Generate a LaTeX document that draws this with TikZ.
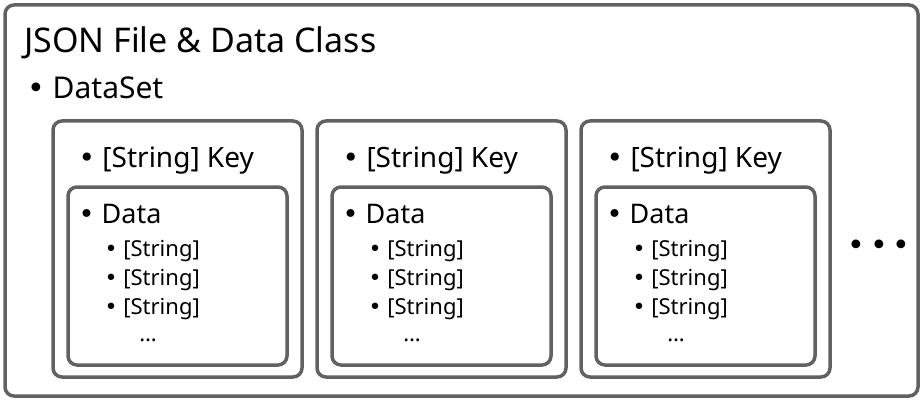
\documentclass[tikz,border=0pt]{standalone}
\usepackage{fontspec}
\setmainfont{Noto Sans}
\newfontfamily\dotfont{DejaVu Sans}
\newcommand{\blt}{{\dotfont •}}
\definecolor{framegray}{HTML}{616161}
\tikzset{
  frame/.style={draw=framegray, line width=3.5pt, rounded corners=9pt},
  lbl/.style={anchor=base west, inner sep=0pt},
  titlefont/.style={font=\fontsize{34}{40}\selectfont},
  setfont/.style={font=\fontsize{30}{36}\selectfont},
  keyfont/.style={font=\fontsize{28}{34}\selectfont},
  datafont/.style={font=\fontsize{27}{32}\selectfont},
  strfont/.style={font=\fontsize{22}{26}\selectfont},
}
\begin{document}
\begin{tikzpicture}[x=1pt,y=-1pt]
\useasboundingbox (0,0) rectangle (923,401);
%\draw[help lines, color=gray!30, dashed] (0,0) grid[step=50] (923,401);
\draw[frame] (5,5) rectangle (918,396);
\node[lbl,titlefont] (title) at (24,53) {JSON File \& Data Class};
\node[lbl,setfont] (dataset) at (27,99) {\blt\ DataSet};
% first key
\draw[frame] (53,121) rectangle (302,377);
\draw[frame] (68,187) rectangle (287,365);
\node[lbl,keyfont] (keyA) at (78.5,167) {\blt\ [String] Key};
\node[lbl,datafont] (dataA) at (78.5,223) {\blt\ Data};
\node[lbl,strfont] (strA1) at (104.5,256) {\blt\ [String]};
\node[lbl,strfont] (strA2) at (104.5,285) {\blt\ [String]};
\node[lbl,strfont] (strA3) at (104.5,314) {\blt\ [String]};
\node[anchor=base,inner sep=0pt,strfont] (moreA) at (148,341) {\dots};
% second key
\draw[frame] (317,121) rectangle (566,377);
\draw[frame] (332,187) rectangle (551,365);
\node[lbl,keyfont] (keyB) at (342.5,167) {\blt\ [String] Key};
\node[lbl,datafont] (dataB) at (342.5,223) {\blt\ Data};
\node[lbl,strfont] (strB1) at (368.5,256) {\blt\ [String]};
\node[lbl,strfont] (strB2) at (368.5,285) {\blt\ [String]};
\node[lbl,strfont] (strB3) at (368.5,314) {\blt\ [String]};
\node[anchor=base,inner sep=0pt,strfont] (moreB) at (412,341) {\dots};
% third key
\draw[frame] (581,121) rectangle (830,377);
\draw[frame] (596,187) rectangle (815,365);
\node[lbl,keyfont] (keyC) at (606.5,167) {\blt\ [String] Key};
\node[lbl,datafont] (dataC) at (606.5,223) {\blt\ Data};
\node[lbl,strfont] (strC1) at (632.5,256) {\blt\ [String]};
\node[lbl,strfont] (strC2) at (632.5,285) {\blt\ [String]};
\node[lbl,strfont] (strC3) at (632.5,314) {\blt\ [String]};
\node[anchor=base,inner sep=0pt,strfont] (moreC) at (676,341) {\dots};
\node[inner sep=0pt,font=\fontsize{30}{36}\selectfont] (etc) at (879,248) {\blt\,\blt\,\blt};
\end{tikzpicture}
\end{document}
